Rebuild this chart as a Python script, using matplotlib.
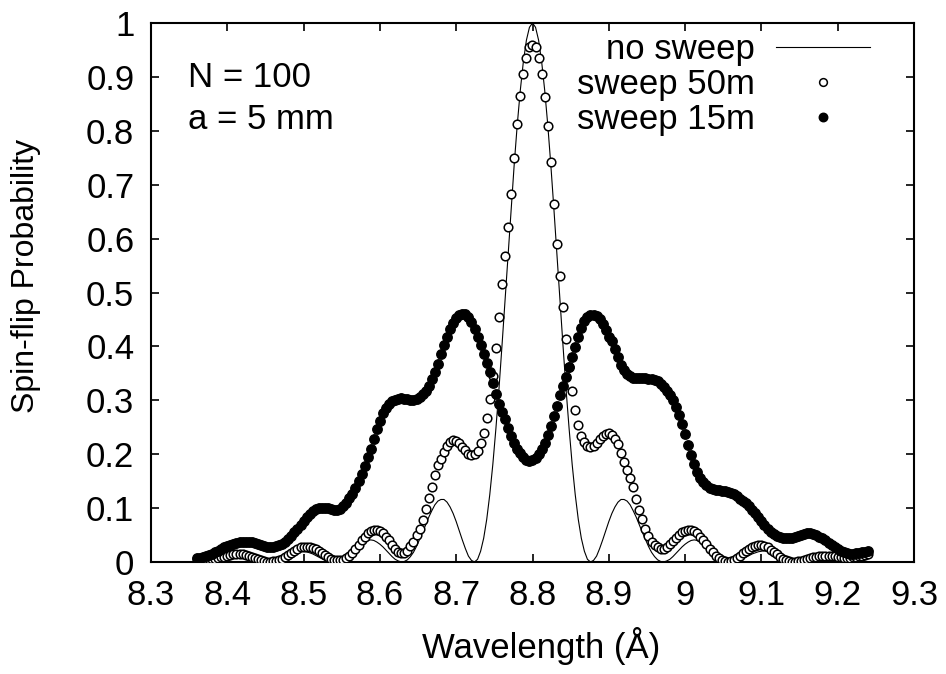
#!/usr/bin/env python

import numpy as np
import matplotlib
matplotlib.use("Agg")
from matplotlib import pyplot as plt

# Plot setup
###########################################################################
fig_font_size = 25
params = {'font.family'     : 'Liberation Sans',
          'font.size'       : fig_font_size,
          'xtick.labelsize' : fig_font_size,
          'ytick.labelsize' : fig_font_size,
          'axes.linewidth'  : 1.5,
          'xtick.direction' : 'in',
          'ytick.direction' : 'in',
          'xtick.top'       : True,
          'ytick.right'     : True,
          'xtick.major.size': 6,
          'ytick.major.size': 6,
          'xtick.major.width': 1.2,
          'ytick.major.width': 1.2,
          'xtick.major.pad' : 12,
          'ytick.major.pad' : 12,
}
plt.rcParams.update(params)

# Data, wavelength grid 8.36 ... 9.24 A, step 0.004
###########################################################################
lam_start = 8.36
lam_step = 0.004

no_sweep = [
    0.000, 0.000, 0.001, 0.002, 0.003, 0.005, 0.006, 0.008, 0.009, 0.011,
    0.012, 0.012, 0.012, 0.012, 0.011, 0.010, 0.008, 0.006, 0.005, 0.003,
    0.002, 0.001, 0.000, 0.000, 0.001, 0.002, 0.004, 0.007, 0.009, 0.012,
    0.015, 0.017, 0.019, 0.020, 0.021, 0.020, 0.019, 0.017, 0.015, 0.012,
    0.009, 0.006, 0.003, 0.001, 0.000, 0.000, 0.001, 0.003, 0.006, 0.011,
    0.015, 0.021, 0.026, 0.031, 0.035, 0.038, 0.040, 0.041, 0.040, 0.037,
    0.033, 0.028, 0.022, 0.016, 0.010, 0.005, 0.002, 0.000, 0.001, 0.004,
    0.010, 0.018, 0.029, 0.042, 0.055, 0.069, 0.083, 0.095, 0.106, 0.113,
    0.116, 0.116, 0.111, 0.102, 0.090, 0.075, 0.058, 0.041, 0.025, 0.011,
    0.003, 0.000, 0.005, 0.020, 0.044, 0.079, 0.125, 0.181, 0.247, 0.320,
    0.401, 0.485, 0.571, 0.656, 0.737, 0.811, 0.875, 0.928, 0.968, 0.992,
    1.000,
    0.992, 0.968, 0.928, 0.875, 0.811, 0.737, 0.656, 0.571, 0.485, 0.401,
    0.320, 0.247, 0.181, 0.125, 0.079, 0.044, 0.020, 0.005, 0.000, 0.003,
    0.011, 0.025, 0.041, 0.058, 0.075, 0.090, 0.102, 0.111, 0.116, 0.116,
    0.113, 0.106, 0.095, 0.083, 0.069, 0.055, 0.042, 0.029, 0.018, 0.010,
    0.004, 0.001, 0.000, 0.002, 0.005, 0.010, 0.016, 0.022, 0.028, 0.033,
    0.037, 0.040, 0.041, 0.040, 0.038, 0.035, 0.031, 0.026, 0.021, 0.015,
    0.011, 0.006, 0.003, 0.001, 0.000, 0.000, 0.001, 0.003, 0.006, 0.009,
    0.012, 0.015, 0.017, 0.019, 0.020, 0.021, 0.020, 0.019, 0.017, 0.015,
    0.012, 0.009, 0.007, 0.004, 0.002, 0.001, 0.000, 0.000, 0.001, 0.002,
    0.003, 0.005, 0.006, 0.008, 0.010, 0.011, 0.012, 0.012, 0.012, 0.012,
    0.011, 0.009, 0.008, 0.006, 0.005, 0.003, 0.002, 0.001, 0.000, 0.000,
]

sweep_50m = [
    0.006, 0.005, 0.005, 0.005, 0.005, 0.005, 0.006, 0.007, 0.009, 0.010,
    0.012, 0.013, 0.014, 0.015, 0.015, 0.014, 0.013, 0.011, 0.009, 0.007,
    0.005, 0.003, 0.001, 0.000, 0.000, 0.001, 0.002, 0.003, 0.006, 0.009,
    0.013, 0.017, 0.021, 0.024, 0.027, 0.028, 0.028, 0.028, 0.026, 0.024,
    0.021, 0.017, 0.013, 0.009, 0.006, 0.004, 0.003, 0.003, 0.004, 0.007,
    0.011, 0.017, 0.024, 0.032, 0.040, 0.047, 0.053, 0.057, 0.059, 0.059,
    0.057, 0.053, 0.047, 0.040, 0.032, 0.025, 0.019, 0.016, 0.016, 0.020,
    0.029, 0.038, 0.050, 0.062, 0.078, 0.098, 0.118, 0.139, 0.161, 0.180,
    0.192, 0.205, 0.216, 0.223, 0.226, 0.225, 0.220, 0.214, 0.207, 0.201,
    0.199, 0.200, 0.206, 0.220, 0.240, 0.268, 0.303, 0.345, 0.397, 0.455,
    0.515, 0.568, 0.622, 0.682, 0.750, 0.812, 0.865, 0.905, 0.935, 0.955,
    0.960,
    0.955, 0.935, 0.905, 0.862, 0.808, 0.743, 0.665, 0.590, 0.530, 0.473,
    0.413, 0.362, 0.318, 0.282, 0.254, 0.234, 0.222, 0.216, 0.214, 0.216,
    0.221, 0.228, 0.234, 0.238, 0.239, 0.236, 0.228, 0.218, 0.203, 0.185,
    0.170, 0.156, 0.139, 0.117, 0.097, 0.079, 0.061, 0.048, 0.038, 0.031,
    0.027, 0.025, 0.025, 0.028, 0.033, 0.039, 0.045, 0.051, 0.055, 0.058,
    0.059, 0.059, 0.057, 0.053, 0.047, 0.040, 0.033, 0.025, 0.018, 0.012,
    0.007, 0.003, 0.001, 0.000, 0.001, 0.003, 0.007, 0.011, 0.016, 0.021,
    0.025, 0.028, 0.030, 0.031, 0.031, 0.030, 0.027, 0.023, 0.019, 0.014,
    0.010, 0.006, 0.003, 0.001, 0.000, 0.000, 0.001, 0.002, 0.004, 0.006,
    0.007, 0.009, 0.010, 0.011, 0.012, 0.012, 0.012, 0.012, 0.011, 0.010,
    0.009, 0.008, 0.008, 0.008, 0.009, 0.010, 0.011, 0.012, 0.013, 0.014,
]

sweep_15m = [
    0.007, 0.008, 0.009, 0.011, 0.013, 0.015, 0.018, 0.021, 0.024, 0.027,
    0.030, 0.032, 0.034, 0.036, 0.037, 0.038, 0.038, 0.038, 0.037, 0.035,
    0.033, 0.031, 0.029, 0.028, 0.028, 0.028, 0.029, 0.031, 0.034, 0.038,
    0.043, 0.049, 0.055, 0.062, 0.069, 0.076, 0.083, 0.089, 0.094, 0.098,
    0.100, 0.101, 0.101, 0.100, 0.098, 0.097, 0.097, 0.099, 0.103, 0.110,
    0.118, 0.127, 0.138, 0.150, 0.163, 0.178, 0.194, 0.210, 0.228, 0.246,
    0.262, 0.276, 0.286, 0.293, 0.298, 0.301, 0.303, 0.304, 0.303, 0.302,
    0.301, 0.301, 0.303, 0.306, 0.311, 0.318, 0.327, 0.339, 0.352, 0.368,
    0.385, 0.402, 0.418, 0.432, 0.443, 0.452, 0.458, 0.461, 0.460, 0.455,
    0.446, 0.433, 0.418, 0.402, 0.386, 0.370, 0.353, 0.333, 0.312, 0.294,
    0.279, 0.265, 0.248, 0.233, 0.220, 0.210, 0.202, 0.195, 0.190, 0.188,
    0.189,
    0.193, 0.200, 0.209, 0.220, 0.235, 0.253, 0.271, 0.290, 0.309, 0.327,
    0.344, 0.362, 0.380, 0.399, 0.418, 0.435, 0.447, 0.455, 0.459, 0.459,
    0.456, 0.450, 0.441, 0.430, 0.418, 0.410, 0.396, 0.380, 0.366, 0.356,
    0.349, 0.345, 0.342, 0.341, 0.341, 0.341, 0.341, 0.340, 0.339, 0.338,
    0.335, 0.331, 0.325, 0.318, 0.310, 0.300, 0.288, 0.273, 0.256, 0.237,
    0.217, 0.198, 0.181, 0.167, 0.156, 0.148, 0.142, 0.138, 0.135, 0.134,
    0.133, 0.132, 0.131, 0.130, 0.128, 0.126, 0.122, 0.117, 0.114, 0.110,
    0.104, 0.097, 0.090, 0.083, 0.076, 0.069, 0.062, 0.056, 0.052, 0.048,
    0.046, 0.044, 0.044, 0.044, 0.045, 0.047, 0.049, 0.051, 0.052, 0.053,
    0.053, 0.052, 0.050, 0.047, 0.044, 0.040, 0.036, 0.032, 0.028, 0.025,
    0.021, 0.018, 0.016, 0.015, 0.015, 0.016, 0.017, 0.018, 0.019, 0.020,
]

x_ticks = [8.3, 8.4, 8.5, 8.6, 8.7, 8.8, 8.9, 9.0, 9.1, 9.2, 9.3]
x_tick_labels = ['8.3', '8.4', '8.5', '8.6', '8.7', '8.8', '8.9', '9', '9.1', '9.2', '9.3']
y_ticks = [0, 0.1, 0.2, 0.3, 0.4, 0.5, 0.6, 0.7, 0.8, 0.9, 1]
y_tick_labels = ['0', '0.1', '0.2', '0.3', '0.4', '0.5', '0.6', '0.7', '0.8', '0.9', '1']


def wavelengths( values ):
    return lam_start + lam_step * np.arange(len(values))


def createPlot():
    fig = plt.figure(figsize=(9.46, 6.74), dpi=100)
    ax = fig.add_axes([151 / 946, 112 / 674, 763 / 946, 539 / 674])

    ax.plot(wavelengths(no_sweep), no_sweep, '-', color='black', lw=0.8,
            label='no sweep', zorder=2)
    ax.plot(wavelengths(sweep_50m), sweep_50m, 'o', mfc='white', mec='black',
            mew=1.1, ms=6.2, label='sweep 50m', zorder=3)
    ax.plot(wavelengths(sweep_15m), sweep_15m, 'o', color='black',
            ms=6.8, label='sweep 15m', zorder=4)

    ax.set_xlim(8.3, 9.3)
    ax.set_ylim(0, 1)
    ax.set_xticks(x_ticks)
    ax.set_xticklabels(x_tick_labels)
    ax.set_yticks(y_ticks)
    ax.set_yticklabels(y_tick_labels)

    ax.set_xlabel("Wavelength (\u00c5)", fontsize=25, va='center')
    ax.set_ylabel("Spin-flip Probability", fontsize=23, va='center')
    ax.xaxis.set_label_coords(0.511, -0.155)
    ax.yaxis.set_label_coords(-0.164, 0.531)

    ax.text(0.0485, 0.899, "N = 100", transform=ax.transAxes, va='center', ha='left')
    ax.text(0.0485, 0.821, "a = 5 mm", transform=ax.transAxes, va='center', ha='left')

    ax.legend(loc='upper right', bbox_to_anchor=(0.942, 0.981), markerfirst=False,
              frameon=False, numpoints=1, handlelength=2.7, handletextpad=0.6,
              labelspacing=0.06, borderpad=0.0, borderaxespad=0.0,
              markerscale=0.9)

    fig.savefig("out.png", dpi=100, facecolor='w')


def main():
    for series in (no_sweep, sweep_50m, sweep_15m):
        assert len(series) == 221, len(series)
    createPlot()


if __name__ == "__main__":
    main()
